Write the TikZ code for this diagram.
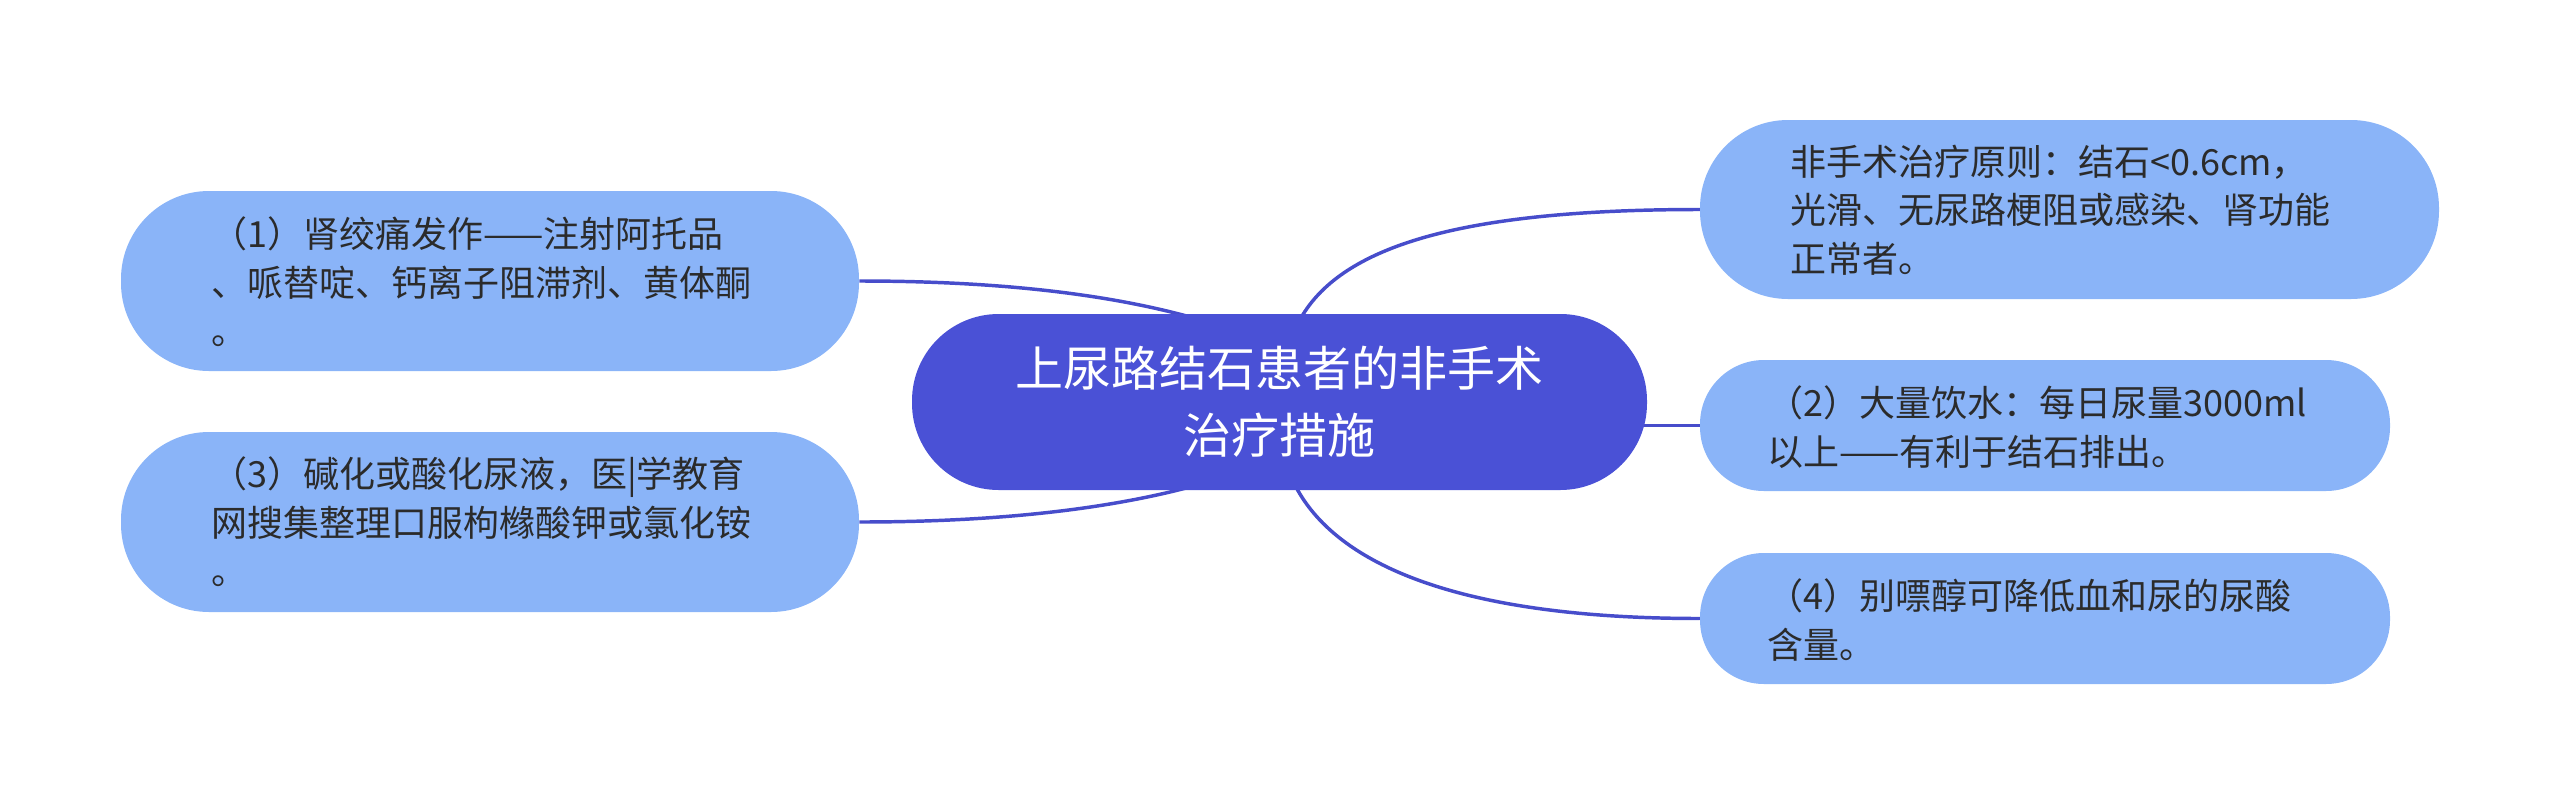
\documentclass[tikz,border=0pt]{standalone}
\usepackage{fontspec}
\setmainfont{Noto Sans CJK SC}
\usetikzlibrary{backgrounds}
\definecolor{centerc}{HTML}{4A51D6}
\definecolor{leafc}{HTML}{8AB4F8}
\definecolor{linec}{HTML}{474DCB}
\definecolor{textc}{HTML}{2B2B2B}
\begin{document}
\begin{tikzpicture}[x=0.75pt,y=-0.75pt,
  centerbox/.style={fill=centerc, draw=none, rounded corners=65pt, inner sep=0pt,
    minimum width=551.25pt, minimum height=132pt, text=white, align=center,
    font=\fontsize{36pt}{50pt}\selectfont},
  leafbox/.style={fill=leafc, draw=none, inner sep=0pt},
  bigleaf/.style={leafbox, minimum width=553.5pt, minimum height=135pt, rounded corners=66pt},
  smallleaf/.style={leafbox, minimum width=517.5pt, minimum height=98.25pt, rounded corners=48pt},
  leaftext/.style={text=textc, align=left, anchor=west, inner sep=0pt,
    font=\fontsize{27pt}{36.5pt}\selectfont},
  conn/.style={draw=linec, line width=2.6pt}]
\useasboundingbox (0,0) rectangle (2560,804);

\node[centerbox] (c) at (1279.5,402) {上尿路结石患者的非手术\\治疗措施};

\node[bigleaf] (l1) at (490,281) {};
\node[leaftext] (l1t) at (211,282) {（1）肾绞痛发作——注射阿托品\\、哌替啶、钙离子阻滞剂、黄体酮\\。};

\node[bigleaf] (l3) at (490,522) {};
\node[leaftext] (l3t) at (211,522) {（3）碱化或酸化尿液，医|学教育\\网搜集整理口服枸橼酸钾或氯化铵\\。};

\node[bigleaf, minimum width=554.25pt, minimum height=134.25pt] (r1) at (2069.5,209.5) {};
\node[leaftext] (r1t) at (1790,210) {非手术治疗原则：结石<0.6cm，\\光滑、无尿路梗阻或感染、肾功能\\正常者。};

\node[smallleaf] (r2) at (2045,425.5) {};
\node[leaftext] (r2t) at (1767,427) {（2）大量饮水：每日尿量3000ml\\以上——有利于结石排出。};

\node[smallleaf] (r3) at (2045,618.5) {};
\node[leaftext] (r3t) at (1767,620) {（4）别嘌醇可降低血和尿的尿酸\\含量。};

\begin{scope}[on background layer]
\draw[conn] (l1.east) .. controls +(120,0) and +(-100,-29) .. ([xshift=-59.6pt,yshift=-4.5pt]c.north);
\draw[conn] (l3.east) .. controls +(120,0) and +(-100,28) .. ([xshift=-59.6pt,yshift=4.5pt]c.south);
\draw[conn] (r1.west) .. controls +(-250,0) and +(35,-80) .. ([xshift=11.6pt,yshift=-12pt]c.north);
\draw[conn] (r3.west) .. controls +(-250,0) and +(35,86) .. ([xshift=7.9pt,yshift=12pt]c.south);
\draw[conn] (r2.west) -- (r2.west -| c.center);
\end{scope}
\end{tikzpicture}
\end{document}
